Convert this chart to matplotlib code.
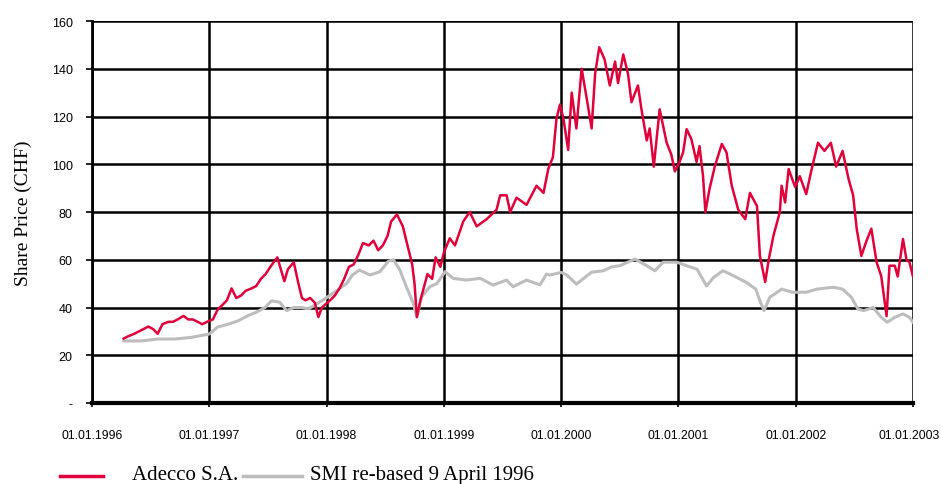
import matplotlib
matplotlib.use('Agg')
import matplotlib.pyplot as plt
import matplotlib.transforms as mtransforms
from matplotlib.lines import Line2D

# Adecco S.A. share price (CHF); time as decimal years
adecco_t = [1996.27, 1996.31, 1996.36, 1996.40, 1996.44, 1996.48, 1996.52, 1996.56,
            1996.60, 1996.65, 1996.69, 1996.73, 1996.78, 1996.82, 1996.86, 1996.90,
            1996.94, 1996.98, 1997.03, 1997.07, 1997.11, 1997.15, 1997.19, 1997.23,
            1997.27, 1997.31, 1997.36, 1997.40, 1997.44, 1997.48, 1997.52, 1997.55,
            1997.58, 1997.61, 1997.64, 1997.67, 1997.72, 1997.76, 1997.79, 1997.82,
            1997.86, 1997.90, 1997.93, 1997.96, 1998.03, 1998.07, 1998.11, 1998.15,
            1998.19, 1998.23, 1998.27, 1998.31, 1998.36, 1998.40, 1998.44, 1998.48,
            1998.52, 1998.55, 1998.60, 1998.65, 1998.69, 1998.73, 1998.75, 1998.77,
            1998.80, 1998.86, 1998.90, 1998.93, 1998.97, 1999.00, 1999.05, 1999.095,
            1999.165, 1999.22, 1999.28, 1999.365, 1999.45, 1999.48, 1999.535, 1999.565,
            1999.62, 1999.705, 1999.79, 1999.85, 1999.89, 1999.93, 1999.96, 1999.99,
            2000.02, 2000.06, 2000.09, 2000.13, 2000.175, 2000.22, 2000.26, 2000.29,
            2000.325, 2000.37, 2000.415, 2000.46, 2000.485, 2000.53, 2000.57, 2000.60,
            2000.655, 2000.685, 2000.73, 2000.755, 2000.79, 2000.84, 2000.90, 2000.94,
            2000.97, 2001.01, 2001.04, 2001.07, 2001.11, 2001.155, 2001.18, 2001.21,
            2001.23, 2001.265, 2001.31, 2001.37, 2001.41, 2001.455, 2001.51, 2001.57,
            2001.61, 2001.67, 2001.695, 2001.74, 2001.77, 2001.81, 2001.865, 2001.88,
            2001.91, 2001.94, 2001.995, 2002.035, 2002.09, 2002.13, 2002.19, 2002.245,
            2002.30, 2002.345, 2002.40, 2002.45, 2002.49, 2002.52, 2002.56, 2002.60,
            2002.645, 2002.69, 2002.73, 2002.775, 2002.80, 2002.845, 2002.87, 2002.915,
            2002.945, 2002.97, 2003.0]
adecco_vals = [27, 28, 29, 30, 31, 32, 31, 29,
               33, 34, 34, 35, 36.5, 35, 35, 34,
               33, 34, 35, 39, 41, 43, 48, 44,
               45, 47, 48, 49, 52, 54, 57, 59,
               61, 56, 51, 56, 59, 50, 44, 43,
               44, 42, 36, 40, 43, 45, 48, 52,
               57, 58, 62, 67, 66, 68, 64, 66,
               70, 76, 79, 74, 66, 58, 50, 36,
               43, 54, 52, 61, 57, 63, 69, 66,
               76, 80, 74, 77, 81, 87, 87, 80,
               86, 83, 91, 88, 98, 103, 119, 125,
               119, 106, 130, 115, 140, 127, 115, 138,
               149, 144, 133, 143, 134, 146, 138, 126,
               133, 123, 110, 115, 99, 123, 109, 104,
               97, 101, 105, 114.7, 110.6, 101, 107.6, 95,
               80, 89.6, 99, 108.5, 105, 91, 81, 77,
               88, 82.5, 61.6, 50.7, 60, 70, 80, 91,
               84, 98, 90.5, 95, 87.5, 96.6, 109, 105.6,
               109, 99, 105.6, 94, 87, 73, 61.6, 67.4,
               73, 59, 53, 36.4, 57.5, 57.5, 53, 68.7,
               60, 59, 53]

# SMI re-based to the Adecco price of 9 April 1996
smi_t = [1996.27, 1996.42, 1996.56, 1996.71, 1996.85, 1997.0, 1997.07, 1997.16,
         1997.245, 1997.33, 1997.40, 1997.475, 1997.53, 1997.60, 1997.66, 1997.72,
         1997.79, 1997.845, 1997.915, 1997.985, 1998.06, 1998.17, 1998.22, 1998.28,
         1998.37, 1998.455, 1998.525, 1998.57, 1998.625, 1998.68, 1998.74, 1998.77,
         1998.81, 1998.88, 1998.94, 1999.01, 1999.08, 1999.19, 1999.31, 1999.42,
         1999.535, 1999.59, 1999.705, 1999.82, 1999.875, 1999.905, 2000.0, 2000.05,
         2000.10, 2000.13, 2000.26, 2000.36, 2000.43, 2000.50, 2000.63, 2000.73,
         2000.80, 2000.87, 2000.985, 2001.07, 2001.16, 2001.24, 2001.30, 2001.38,
         2001.47, 2001.58, 2001.66, 2001.695, 2001.73, 2001.78, 2001.88, 2001.97,
         2002.09, 2002.18, 2002.32, 2002.40, 2002.475, 2002.53, 2002.58, 2002.66,
         2002.73, 2002.78, 2002.845, 2002.915, 2002.97, 2003.0]
smi_vals = [26, 26, 26.8, 26.8, 27.5, 28.9, 31.8, 33,
            34.4, 36.6, 38, 40, 42.8, 42.2, 38.7, 40,
            40, 39.4, 41.5, 43.6, 46.2, 50, 53.6, 55.7,
            53.6, 55, 59.3, 60, 55.7, 48.7, 41.7, 36,
            44.5, 48.7, 50, 55, 52.2, 51.5, 52.2, 49.4,
            51.5, 48.7, 51.5, 49.5, 54, 53.6, 54.7, 53.6,
            51.2, 49.8, 54.8, 55.4, 57, 57.5, 60.3, 57.5,
            55.4, 59, 59, 57.5, 56, 49, 52.6, 55.4,
            53.3, 50.5, 47.7, 42.8, 38.7, 44.3, 47.7, 46.4,
            46.4, 47.7, 48.5, 47.7, 44.3, 39.4, 38.7, 40,
            35.9, 33.8, 35.9, 37.3, 35.9, 33.8]

years = [1996, 1997, 1998, 1999, 2000, 2001, 2002, 2003]
x_labels = ['01.01.%d' % y for y in years]
y_ticks = [0, 20, 40, 60, 80, 100, 120, 140, 160]
y_labels = ['-', '20', '40', '60', '80', '100', '120', '140', '160']

red = '#e0003a'
grey = '#bdbdbd'
sans = ['Liberation Sans', 'DejaVu Sans']
serif = ['Liberation Serif', 'DejaVu Serif']

fig = plt.figure(figsize=(9.41, 4.85), dpi=100)
ax = fig.add_axes([0.0978, 0.167, 0.8724, 0.7876])

ax.plot(smi_t, smi_vals, color=grey, lw=2.2, zorder=3)
ax.plot(adecco_t, adecco_vals, color=red, lw=1.8, zorder=4)

ax.set_xlim(years[0], years[-1])
ax.set_ylim(0, 160)
ax.set_xticks(years)
ax.set_xticklabels(x_labels, family=sans, fontsize=8.8)
ax.set_yticks(y_ticks)
ax.set_yticklabels(y_labels, family=sans, fontsize=9)

ax.grid(True, color='black', lw=1.8, zorder=1)
ax.set_axisbelow(True)
for s in ['top', 'right']:
    ax.spines[s].set_visible(False)
ax.spines['left'].set_linewidth(2.0)
ax.spines['bottom'].set_linewidth(3.0)
ax.tick_params(axis='x', direction='out', length=3, width=1.2, pad=16)
ax.tick_params(axis='y', direction='out', length=4, width=1.2, pad=10)

# last date label sits against the right edge; nudge it in a little
last = ax.get_xticklabels()[-1]
last.set_transform(last.get_transform() +
                   mtransforms.ScaledTranslation(-4 / 100, 0, fig.dpi_scale_trans))

ax.set_ylabel('Share Price (CHF)', family=serif, fontsize=14, labelpad=14)

# legend along the bottom edge, laid out like the original
fy = 8 / 485
fig.add_artist(Line2D([60 / 941, 103 / 941], [fy, fy], color=red, lw=2.5))
fig.text(132 / 941, fy + 0.003, 'Adecco S.A.', family=serif, fontsize=15, va='center')
fig.add_artist(Line2D([243 / 941, 302 / 941], [fy, fy], color=grey, lw=2.5))
fig.text(310 / 941, fy + 0.003, 'SMI re-based 9 April 1996', family=serif, fontsize=15, va='center')

fig.savefig('out.png', dpi=100)
